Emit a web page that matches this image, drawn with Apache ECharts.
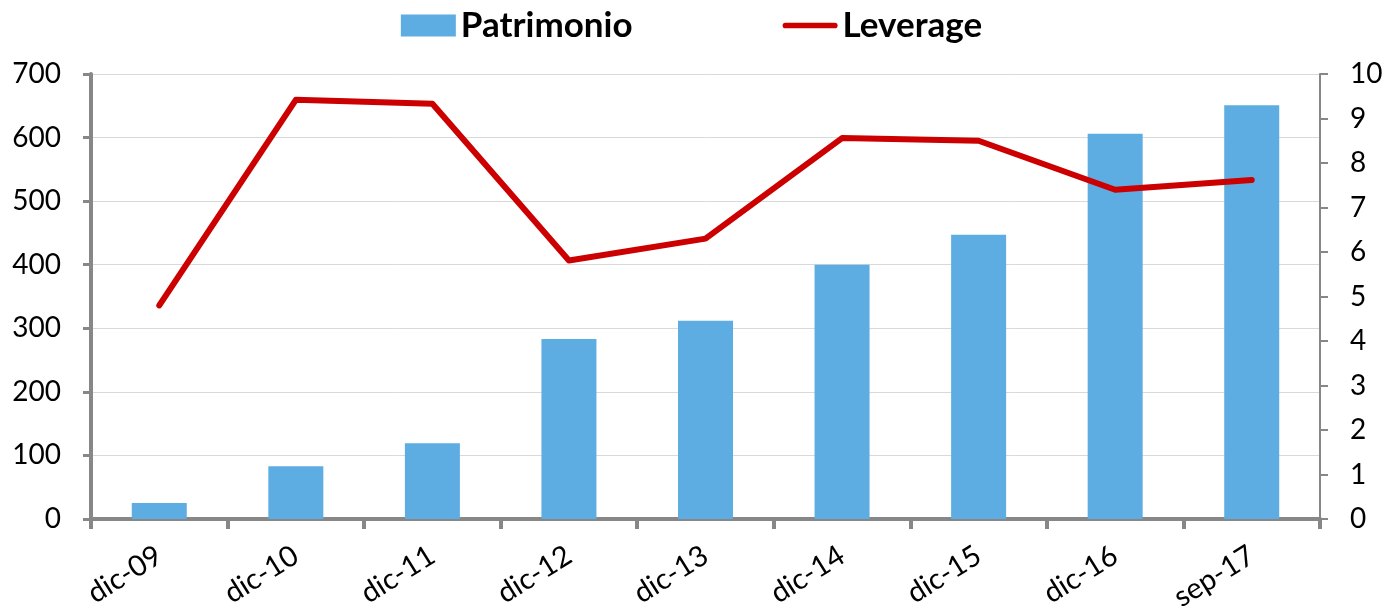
<!DOCTYPE html>
<html>
<head>
<meta charset="utf-8">
<script src="https://cdn.jsdelivr.net/npm/echarts@6/dist/echarts.min.js"></script>
<style>
  html, body { margin: 0; padding: 0; background: #fff; }
  #chart { width: 1383px; height: 611px; }
</style>
</head>
<body>
<div id="chart"></div>
<script>
// Periods on the category axis
const categories = ['dic-09', 'dic-10', 'dic-11', 'dic-12', 'dic-13', 'dic-14', 'dic-15', 'dic-16', 'sep-17'];
// Equity (left axis)
const patrimonio = [25, 83, 119, 283, 312, 400, 447, 606, 651];
// Leverage ratio (right axis)
const leverage = [4.8, 9.42, 9.33, 5.81, 6.3, 8.56, 8.5, 7.4, 7.62];

const FONT = 'Lato, "Open Sans", sans-serif';
const AXIS_GREY = '#878787';
// Thick rounded stroke used as the legend marker of the line series
const LINE_ICON = 'path://M3,0 L55,0 A3,3 0 0 1 55,6 L3,6 A3,3 0 0 1 3,0 Z';

const chart = echarts.init(document.getElementById('chart'), null, { renderer: 'canvas' });

chart.setOption({
  animation: false,
  backgroundColor: '#ffffff',
  textStyle: { fontFamily: FONT },
  legend: {
    top: 3,
    left: 'center',
    itemGap: 150,
    itemWidth: 55,
    itemHeight: 22,
    textStyle: { fontFamily: FONT, fontSize: 35, fontWeight: 'bold', color: '#000' },
    data: [
      { name: 'Patrimonio', icon: 'rect' },
      { name: 'Leverage', icon: LINE_ICON, itemStyle: { color: '#cc0000', borderWidth: 0 } }
    ]
  },
  grid: { left: 91, right: 63, top: 74, bottom: 92, containLabel: false, outerBoundsMode: 'none' },
  xAxis: {
    type: 'category',
    data: categories,
    boundaryGap: true,
    axisLine: { lineStyle: { color: AXIS_GREY, width: 4 } },
    axisTick: { show: true, length: 10, lineStyle: { color: AXIS_GREY, width: 4 } },
    axisLabel: { rotate: 32, margin: 34, fontSize: 29, color: '#000', fontFamily: FONT }
  },
  yAxis: [
    {
      type: 'value',
      min: 0, max: 700, interval: 100,
      axisLine: { show: true, lineStyle: { color: AXIS_GREY, width: 4 } },
      axisTick: { show: true, length: 8, lineStyle: { color: AXIS_GREY, width: 3 } },
      axisLabel: { margin: 30, fontSize: 28, color: '#000', fontFamily: FONT },
      splitLine: { show: true, lineStyle: { color: '#d9d9d9', width: 1 } }
    },
    {
      type: 'value',
      min: 0, max: 10, interval: 1,
      position: 'right',
      axisLine: { show: true, lineStyle: { color: AXIS_GREY, width: 2 } },
      axisTick: { show: true, length: 8, lineStyle: { color: AXIS_GREY, width: 2 } },
      axisLabel: { margin: 30, fontSize: 28, color: '#000', fontFamily: FONT },
      splitLine: { show: false }
    }
  ],
  series: [
    {
      name: 'Patrimonio',
      type: 'bar',
      yAxisIndex: 0,
      data: patrimonio,
      barWidth: 55,
      itemStyle: { color: '#5dade2' },
      z: 1
    },
    {
      name: 'Leverage',
      type: 'line',
      yAxisIndex: 1,
      data: leverage,
      symbol: 'none',
      lineStyle: { color: '#cc0000', width: 6, cap: 'round', join: 'round' },
      itemStyle: { color: '#cc0000' },
      z: 3
    }
  ]
});
</script>
</body>
</html>
